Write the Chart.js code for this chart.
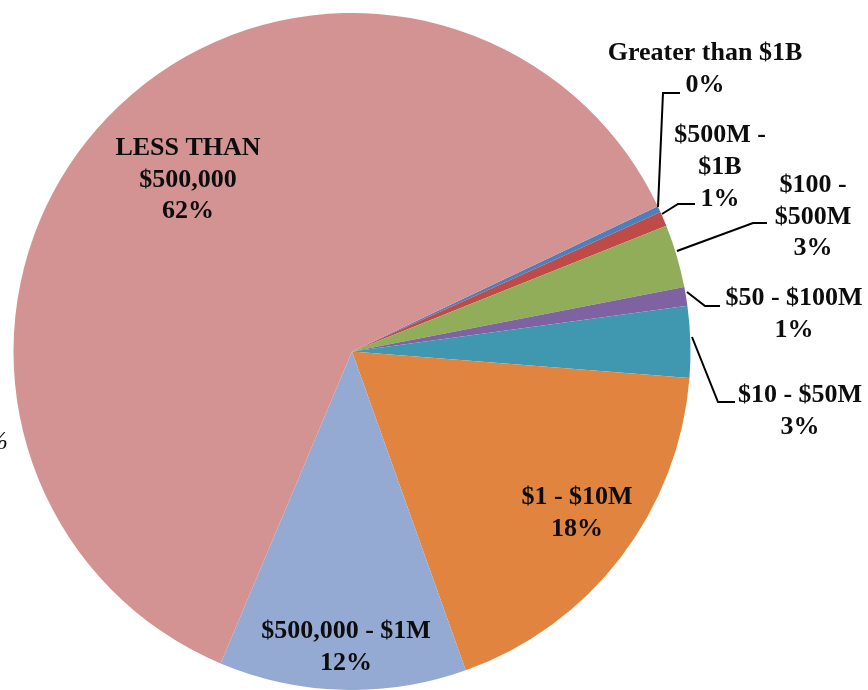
<!DOCTYPE html>
<html>
<head>
<meta charset="utf-8">
<script src="https://cdn.jsdelivr.net/npm/chart.js@4/dist/chart.umd.min.js"></script>
<style>
 html,body{margin:0;padding:0;background:#fff;}
 #c{display:block;}
</style>
</head>
<body>
<canvas id="c" width="868" height="690"></canvas>
<script>
// categories, clockwise starting at the slice just right of the top
const categories=["Greater than $1B","$500M - $1B","$100 - $500M","$50 - $100M","$10 - $50M","$1 - $10M","$500,000 - $1M","LESS THAN $500,000"];
const labelLines=[["Greater than $1B"],["$500M -","$1B"],["$100 -","$500M"],["$50 - $100M"],["$10 - $50M"],["$1 - $10M"],["$500,000 - $1M"],["LESS THAN","$500,000"]];
const shares=[0.3,0.7,3.0,0.9,3.4,18.3,11.8,61.6];
const colors=["#4A80BE","#BF4B48","#92AD59","#7E62A2","#3F98AF","#E0843F","#94AAD3","#D39393"];

// where each label sits: centre x and baseline of the first line
const labelPos=[
 {x:705,y:60},{x:720,y:142},{x:813,y:192},{x:794,y:305},{x:800,y:402},
 {x:577,y:504},{x:346,y:638},{x:188,y:155}
];
const leaders=[
 [[680,93],[663,93],[658,207]],
 [[695,204],[678,204],[662,214]],
 [[767,223],[753,223],[677,251]],
 [[720,306],[705,306],[687,292]],
 [[735,402],[718,402],[692,337]],
 null,null,null
];
const lineGap=31.5;

const labelPlugin={
 id:"pieLabels",
 afterDraw(chart){
  const ctx=chart.ctx;
  ctx.save();
  ctx.strokeStyle="#000";
  ctx.lineWidth=2;
  leaders.forEach(pts=>{
   if(!pts)return;
   ctx.beginPath();
   ctx.moveTo(pts[0][0],pts[0][1]);
   for(let i=1;i<pts.length;i++)ctx.lineTo(pts[i][0],pts[i][1]);
   ctx.stroke();
  });
  ctx.fillStyle="#0d0d0d";
  ctx.font='bold 26px "Liberation Serif"';
  ctx.textAlign="center";
  ctx.textBaseline="alphabetic";
  const total=shares.reduce((a,b)=>a+b,0);
  labelLines.forEach((lines,i)=>{
   let p=labelPos[i];
   let all=lines.concat([Math.round(shares[i]/total*100)+"%"]);
   all.forEach((t,k)=>ctx.fillText(t,p.x,p.y+k*lineGap+(i==1&&k==2?1:0)));
  });
  // stray clipped text at the left edge of the source
  ctx.font='italic 26px "Liberation Serif"';
  ctx.textAlign="right";
  ctx.fillText("%",8,449);
  ctx.restore();
 }
};

new Chart(document.getElementById("c"),{
 type:"pie",
 data:{labels:categories,datasets:[{data:shares,backgroundColor:colors,borderWidth:0}]},
 options:{
  responsive:false,
  animation:false,
  rotation:64.6,
  layout:{padding:{left:12,right:176,top:13,bottom:-3}},
  plugins:{legend:{display:false},tooltip:{enabled:false}},
  events:[]
 },
 plugins:[labelPlugin]
});
</script>
</body>
</html>
